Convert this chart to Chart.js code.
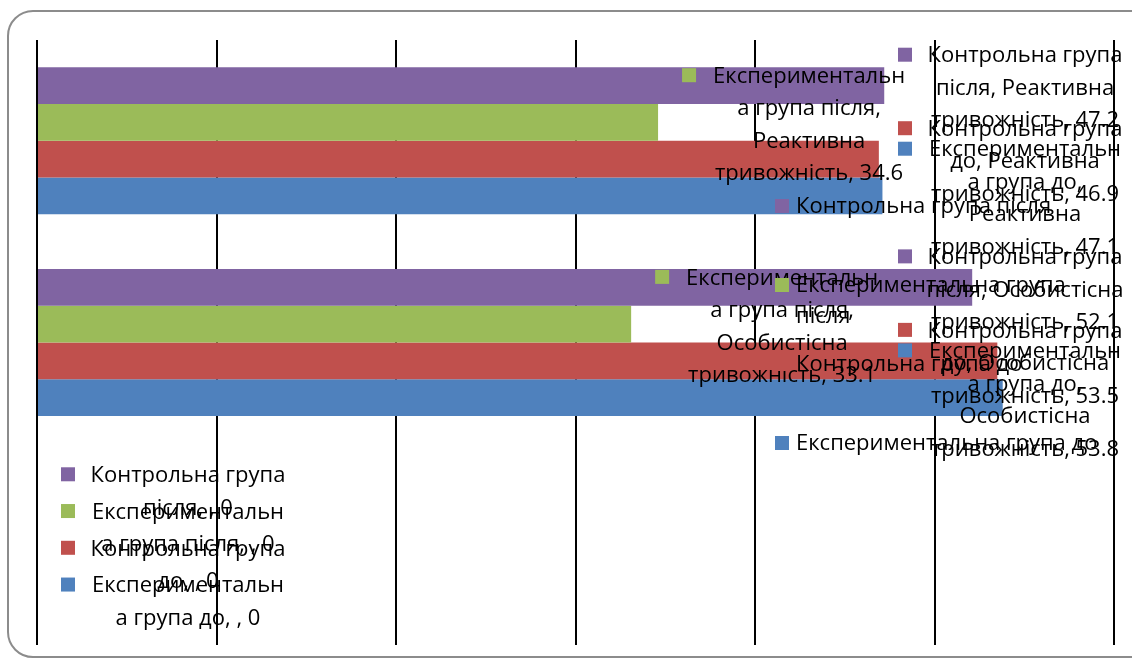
<!DOCTYPE html>
<html lang="uk">
<head>
<meta charset="utf-8">
<title>Тривожність</title>
<script src="https://cdn.jsdelivr.net/npm/chart.js@4.4.1/dist/chart.umd.min.js"></script>
<style>
  html, body { margin: 0; padding: 0; background: #fff; overflow: hidden; }
  #wrap { position: relative; width: 1132px; height: 667px; }
  #frame { position: absolute; left: 7px; top: 10px; width: 1200px; height: 648px; border: 2px solid #8c8c8c; border-radius: 26px; box-sizing: border-box; }
  canvas { position: absolute; left: 0; top: 0; }
</style>
</head>
<body>
<div id="wrap">
  <div id="frame"></div>
  <canvas id="anxietyChart" width="1132" height="667"></canvas>
</div>
<script>
// Chart data
const categories = ['Реактивна тривожність', 'Особистісна тривожність', ''];
const seriesNames = ['Контрольна група після', 'Експериментальна група після', 'Контрольна група до', 'Експериментальна група до'];
const controlAfter = [47.2, 52.1, 0];
const experimentalAfter = [34.6, 33.1, 0];
const controlBefore = [46.9, 53.5, 0];
const experimentalBefore = [47.1, 53.8, 0];
const xTicks = [0, 10, 20, 30, 40, 50, 60];

const seriesColors = ['#8064A2', '#9BBB59', '#C0504D', '#4F81BD'];
const seriesValues = [controlAfter, experimentalAfter, controlBefore, experimentalBefore];

const textFont = '22px "Open Sans"';
const lineHeight = 32.5;

// greedy word wrap, long words are cut by characters (like Excel does)
function wrapText(ctx, text, maxW) {
    const words = text.split(' ');
    const lines = [];
    let line = '';
    words.forEach(w => {
        let word = w;
        const test = line ? line + ' ' + word : word;
        if (ctx.measureText(test).width <= maxW) { line = test; return; }
        if (line) { lines.push(line); line = ''; }
        while (ctx.measureText(word).width > maxW) {
            let i = word.length;
            while (i > 1 && ctx.measureText(word.slice(0, i)).width > maxW) i--;
            lines.push(word.slice(0, i));
            word = word.slice(i);
        }
        line = word;
    });
    if (line) lines.push(line);
    return lines;
}

// Data labels with legend keys
const excelLabels = {
    id: 'excelLabels',
    afterDatasetsDraw(chart) {
        const ctx = chart.ctx;
        ctx.save();
        ctx.font = textFont;
        ctx.textAlign = 'center';
        ctx.textBaseline = 'middle';
        chart.data.datasets.forEach((ds, d) => {
            const meta = chart.getDatasetMeta(d);
            meta.data.forEach((bar, i) => {
                const text = seriesNames[d] + ', ' + categories[i] + ', ' + ds.data[i];
                const lines = wrapText(ctx, text, 200);
                const keyLeft = Math.min(bar.x + 24, 898);
                const cx = keyLeft + 127;
                const top = bar.y + 3 - (lines.length - 1) * lineHeight / 2;
                ctx.fillStyle = seriesColors[d];
                ctx.fillRect(keyLeft, top - 8.5, 14, 14);
                ctx.fillStyle = '#000';
                lines.forEach((l, k) => ctx.fillText(l, cx, top + k * lineHeight));
            });
        });
        ctx.restore();
    }
};

// Legend drawn inside the plot, text wraps
const wrapLegend = {
    id: 'wrapLegend',
    afterDraw(chart) {
        const ctx = chart.ctx;
        ctx.save();
        ctx.font = textFont;
        ctx.textAlign = 'left';
        ctx.textBaseline = 'middle';
        seriesNames.forEach((name, d) => {
            const y = 207 + d * 79;
            const lines = wrapText(ctx, name, 316);
            ctx.fillStyle = seriesColors[d];
            ctx.fillRect(775, y - 8, 14, 14);
            ctx.fillStyle = '#000';
            lines.forEach((l, k) => ctx.fillText(l, 796, y + k * 31));
        });
        ctx.restore();
    }
};

const ctx = document.getElementById('anxietyChart').getContext('2d');
new Chart(ctx, {
    type: 'bar',
    data: {
        labels: categories,
        datasets: seriesNames.map((name, d) => ({
            label: name,
            data: seriesValues[d],
            backgroundColor: seriesColors[d],
            borderWidth: 0,
            barPercentage: 1,
            categoryPercentage: 0.729
        }))
    },
    options: {
        indexAxis: 'y',
        responsive: false,
        animation: false,
        layout: { padding: { left: 29, right: 18, top: 40, bottom: 22 } },
        scales: {
            x: {
                min: 0,
                max: 60,
                afterBuildTicks: scale => { scale.ticks = xTicks.map(v => ({ value: v })); },
                ticks: { display: false },
                grid: { color: '#000', lineWidth: 2, drawTicks: false },
                border: { display: false }
            },
            y: {
                ticks: { display: false },
                grid: { display: false },
                border: { display: false }
            }
        },
        plugins: {
            legend: { display: false },
            tooltip: { enabled: false }
        }
    },
    plugins: [excelLabels, wrapLegend]
});
</script>
</body>
</html>
